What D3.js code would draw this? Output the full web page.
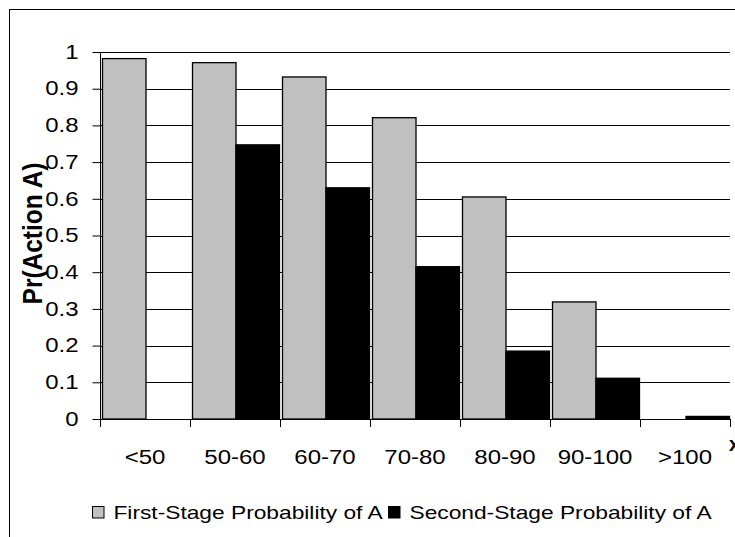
<!DOCTYPE html>
<html>
<head>
<meta charset="utf-8">
<script src="https://cdn.jsdelivr.net/npm/d3@7/dist/d3.min.js"></script>
<style>
  html, body { margin: 0; padding: 0; background: #fff; }
  svg { display: block; font-family: "Liberation Sans", Arial, sans-serif; }
</style>
</head>
<body>
<svg id="chart" width="735" height="537"></svg>
<script>
// Income bands and the probability of choosing Action A in each stage
const categories = ["<50", "50-60", "60-70", "70-80", "80-90", "90-100", ">100"];
const firstStage = [0.982, 0.971, 0.932, 0.821, 0.605, 0.319, 0];
const secondStage = [0, 0.747, 0.630, 0.415, 0.185, 0.111, 0.007];
const seriesNames = ["First-Stage Probability of A", "Second-Stage Probability of A"];
const seriesColors = ["#c0c0c0", "#000000"];
const yTicks = [0, 0.1, 0.2, 0.3, 0.4, 0.5, 0.6, 0.7, 0.8, 0.9, 1];

const svg = d3.select("#chart");
const plotLeft = 100, plotRight = 730, plotTop = 52, plotBottom = 419;
const textStretch = 1.23; // the chart's lettering is drawn wide

// widen text horizontally while keeping its anchor point in place
function stretch(sel, sx) {
  sel.each(function () {
    const t = d3.select(this);
    const x0 = +t.attr("x") || 0;
    t.attr("x", x0 / sx).attr("transform", `scale(${sx},1)`);
  });
}

// outer chart frame
svg.append("rect")
  .attr("x", 9.5).attr("y", 9.5)
  .attr("width", 760).attr("height", 560)
  .attr("fill", "none").attr("stroke", "#000").attr("stroke-width", 1);

const x = d3.scaleBand().domain(categories).range([plotLeft, plotRight]).paddingInner(0).paddingOuter(0);
const inner = d3.scaleBand().domain([0, 1]).range([2.5, x.bandwidth() - 0.5]);
const y = d3.scaleLinear().domain([0, 1]).range([plotBottom, plotTop]);

// horizontal gridlines
svg.append("g").selectAll("line")
  .data(yTicks.filter(d => d > 0))
  .join("line")
  .attr("x1", plotLeft).attr("x2", plotRight)
  .attr("y1", d => Math.round(y(d)) + 0.5).attr("y2", d => Math.round(y(d)) + 0.5)
  .attr("stroke", "#000").attr("stroke-width", 1);

// bars
const groups = svg.append("g").selectAll("g")
  .data(categories)
  .join("g")
  .attr("transform", d => `translate(${x(d)},0)`);

[firstStage, secondStage].forEach((vals, si) => {
  groups.append("rect")
    .attr("x", inner(si))
    .attr("width", inner.bandwidth())
    .attr("y", (d, i) => y(vals[i]))
    .attr("height", (d, i) => plotBottom - y(vals[i]))
    .attr("fill", seriesColors[si])
    .attr("stroke", "#000")
    .attr("stroke-width", (d, i) => vals[i] > 0 ? 1.3 : 0);
});

// y axis
const yAxis = svg.append("g")
  .attr("transform", `translate(${plotLeft + 0.5},0)`)
  .call(d3.axisLeft(y).tickValues(yTicks).tickFormat(d3.format("~g")).tickSize(8).tickPadding(14));
yAxis.select(".domain").attr("stroke", "#000").attr("d", `M0,${plotTop}V${plotBottom}`);
yAxis.selectAll(".tick line").attr("stroke", "#000");
yAxis.selectAll(".tick text").attr("font-size", 19.5).attr("fill", "#000")
  .attr("font-family", "Liberation Sans, Arial, sans-serif")
  .call(stretch, textStretch);

// x axis
const xAxis = svg.append("g")
  .attr("transform", `translate(0,${plotBottom + 0.5})`)
  .call(d3.axisBottom(x).tickSize(0).tickPadding(31));
xAxis.select(".domain").attr("stroke", "#000").attr("d", `M${plotLeft},0H${plotRight}`);
xAxis.selectAll(".tick text").attr("font-size", 19.5).attr("fill", "#000")
  .attr("font-family", "Liberation Sans, Arial, sans-serif")
  .call(stretch, textStretch);
// category boundary ticks
svg.append("g").selectAll("line")
  .data(d3.range(categories.length + 1))
  .join("line")
  .attr("x1", i => Math.round(plotLeft + i * x.bandwidth()) + 0.5)
  .attr("x2", i => Math.round(plotLeft + i * x.bandwidth()) + 0.5)
  .attr("y1", plotBottom).attr("y2", plotBottom + 8)
  .attr("stroke", "#000");

// axis titles
svg.append("text")
  .attr("transform", `translate(41.5,233.5) scale(1.13,1) rotate(-90)`)
  .attr("text-anchor", "middle")
  .attr("font-size", 24.5).attr("font-weight", "bold")
  .text("Pr(Action A)");
svg.append("text")
  .attr("x", 729).attr("y", 451)
  .attr("font-size", 19.5).attr("font-weight", "bold")
  .text("x");

// legend
const legend = svg.append("g").attr("transform", "translate(92,506)");
const legendX = [0, 296];
seriesNames.forEach((name, i) => {
  const g = legend.append("g").attr("transform", `translate(${legendX[i]},0)`);
  g.append("rect").attr("x", 0.5).attr("y", 0.5).attr("width", 11.5).attr("height", 11.5)
    .attr("fill", seriesColors[i]).attr("stroke", "#000").attr("stroke-width", 1);
  g.append("text").attr("x", 21.5).attr("y", 12.5)
    .attr("font-size", 18.5).attr("fill", "#000").text(name)
    .call(stretch, textStretch);
});
</script>
</body>
</html>
